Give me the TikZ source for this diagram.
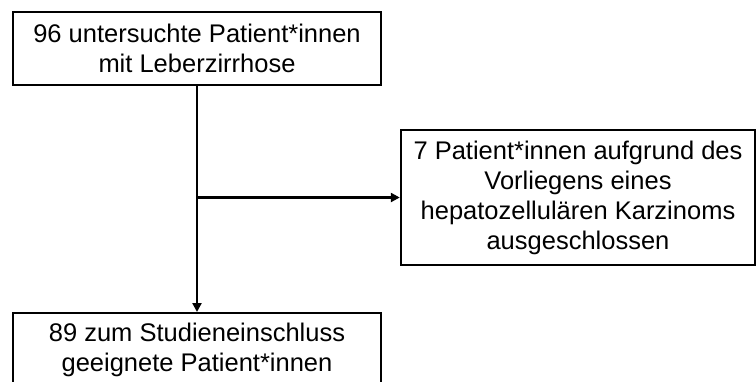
\documentclass[tikz,border=0pt]{standalone}
\usepackage{fontspec}
\setmainfont{Liberation Sans}
\usetikzlibrary{arrows.meta}
\begin{document}
\begin{tikzpicture}[x=1pt,y=1pt,
  box/.style={draw=black,line width=2.4pt,fill=white,align=center,inner sep=0pt,
    font=\fontsize{25.5}{30}\selectfont},
  conn/.style={line width=2.4pt,-{Triangle[length=9pt,width=9pt]}}]
\clip (0,0) rectangle (756,-381);
\fill[white] (0,0) rectangle (756,-381);
\node[box,minimum width=368,minimum height=73] (top) at (197,-48.5)
  {96 untersuchte Patient*innen\\mit Leberzirrhose};
\node[box,minimum width=354,minimum height=135] (excl) at (578,-197.5)
  {7 Patient*innen aufgrund des\\Vorliegens eines\\hepatozellulären Karzinoms\\ausgeschlossen};
\node[box,minimum width=368,minimum height=73,anchor=north] (bot) at (197,-312)
  {89 zum Studieneinschluss\\geeignete Patient*innen};
\coordinate (split) at (197,-197.5);
\draw[conn] (top.south) -- (bot.north);
\draw[conn] (split) -- (excl.west);
\end{tikzpicture}
\end{document}
